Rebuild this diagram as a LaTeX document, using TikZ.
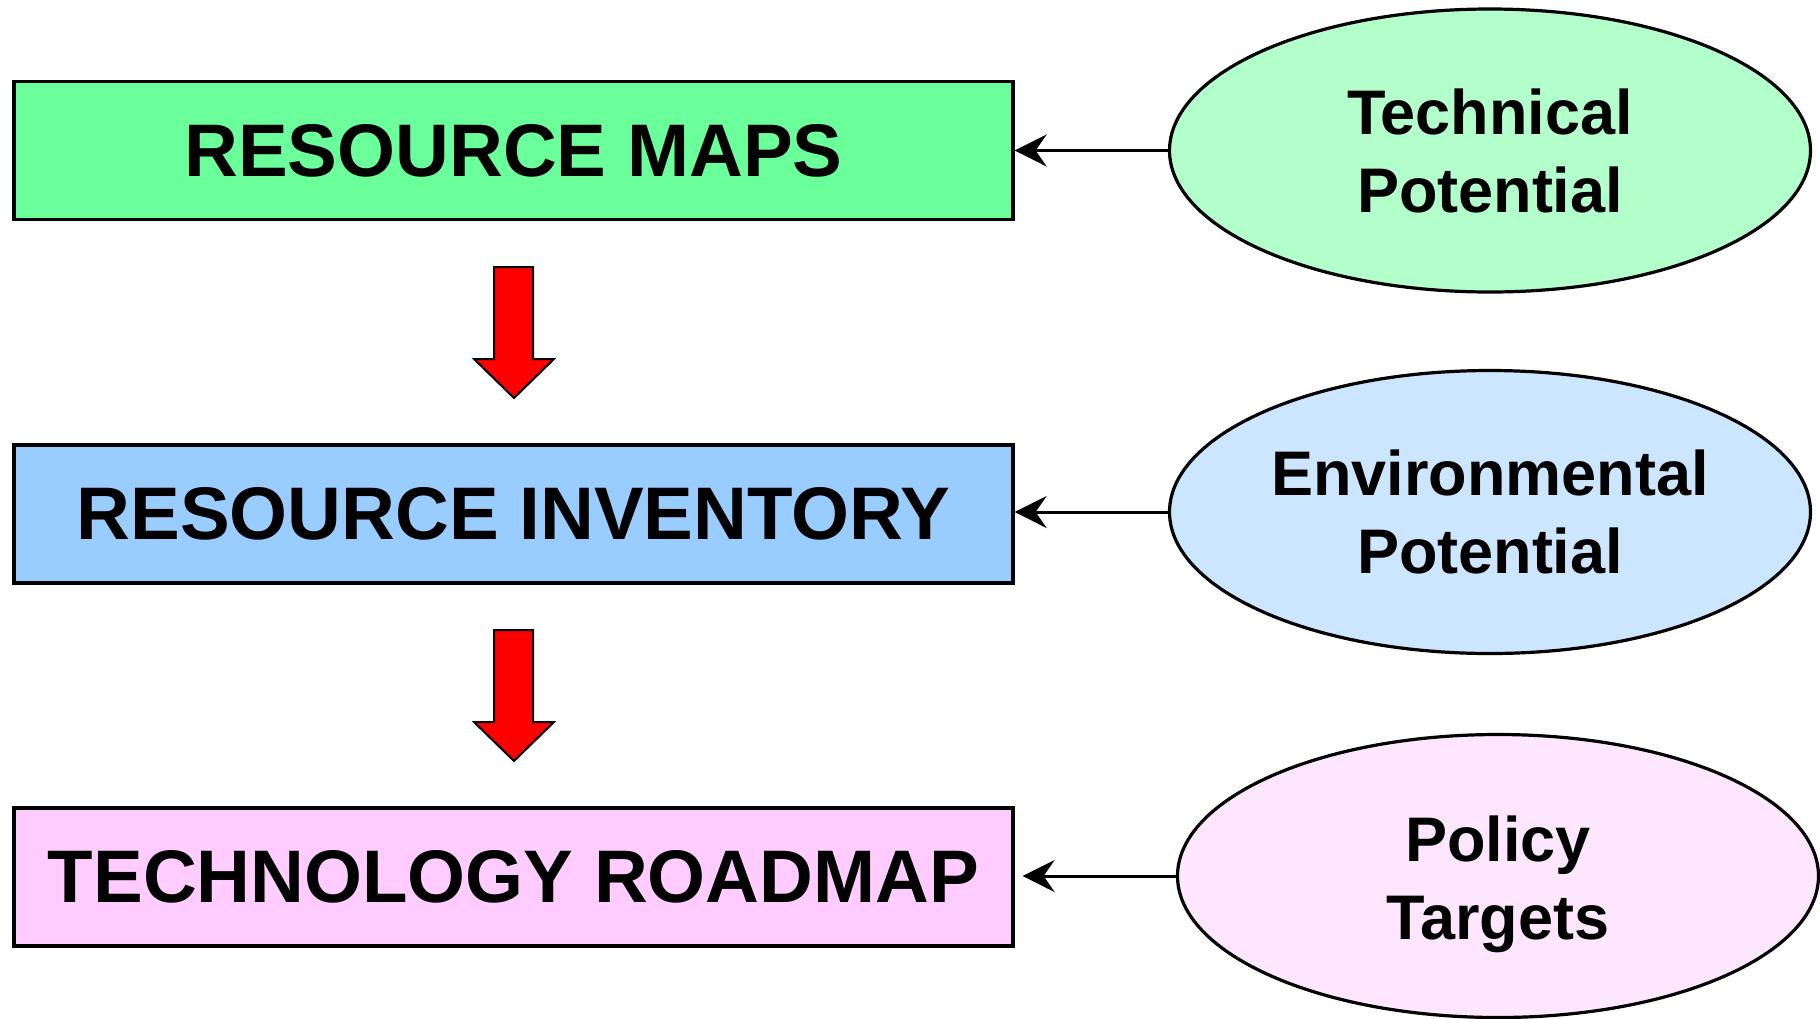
\documentclass[tikz,border=0pt]{standalone}
\usepackage{fontspec}
\setmainfont{Liberation Sans}
\usetikzlibrary{shapes.geometric,arrows.meta}
\definecolor{mapgreen}{HTML}{6AFF9A}
\definecolor{invblue}{HTML}{99CCFF}
\definecolor{roadpink}{HTML}{FFCCFF}
\definecolor{techfill}{HTML}{B3FFCC}
\definecolor{envfill}{HTML}{CCE6FF}
\definecolor{polfill}{HTML}{FFE6FF}
\tikzset{
  stagebox/.style={draw=black, line width=3.2pt, minimum width=999pt, minimum height=138pt,
    inner sep=0pt, font=\fontsize{74.5}{80}\selectfont\bfseries},
  factorfont/.style={align=center, font=\fontsize{63}{78}\selectfont\bfseries},
  factor/.style={ellipse, draw=black, line width=3.2pt, minimum width=641pt, minimum height=283pt,
    inner sep=0pt, factorfont},
  feed/.style={line width=3pt, -{Stealth[length=32pt, width=32pt, inset=11pt]}},
  flowarrow/.style={fill=red, draw=black, line width=2pt, line join=miter}
}
\begin{document}
\begin{tikzpicture}[x=1pt, y=-1pt]
  \useasboundingbox (0,0) rectangle (1820,1018);
  % stages of the chain
  \node[stagebox, fill=mapgreen] (maps) at (513.5,150.5) {RESOURCE MAPS};
  \node[stagebox, fill=invblue] (inv) at (513.5,514) {RESOURCE INVENTORY};
  \node[stagebox, fill=roadpink] (road) at (513.5,877) {TECHNOLOGY ROADMAP};
  % constraining factors
  \node[factor, fill=techfill] (tech) at (1490,150.5) {Technical\\Potential};
  \node[factor, fill=envfill] (env) at (1490,512) {Environmental\\Potential};
  \node[factor, fill=polfill,
    label={[factorfont, yshift=-8pt]center:{Policy\\Targets}}] (pol) at (1498,876) {};
  % feeds into each stage
  \draw[feed] (tech.west) -- (maps.east |- tech.west);
  \draw[feed] (env.west) -- (inv.east |- env.west);
  \draw[feed] (pol.west) -- ([xshift=8pt]road.east |- pol.west);
  % block arrows between stages
  \foreach \dy in {0,363} {
    \draw[flowarrow] (494,267+\dy) -- (533,267+\dy) -- (533,359+\dy) -- (554,359+\dy)
      -- (514,398+\dy) -- (474,359+\dy) -- (494,359+\dy) -- cycle;
  }
\end{tikzpicture}
\end{document}
